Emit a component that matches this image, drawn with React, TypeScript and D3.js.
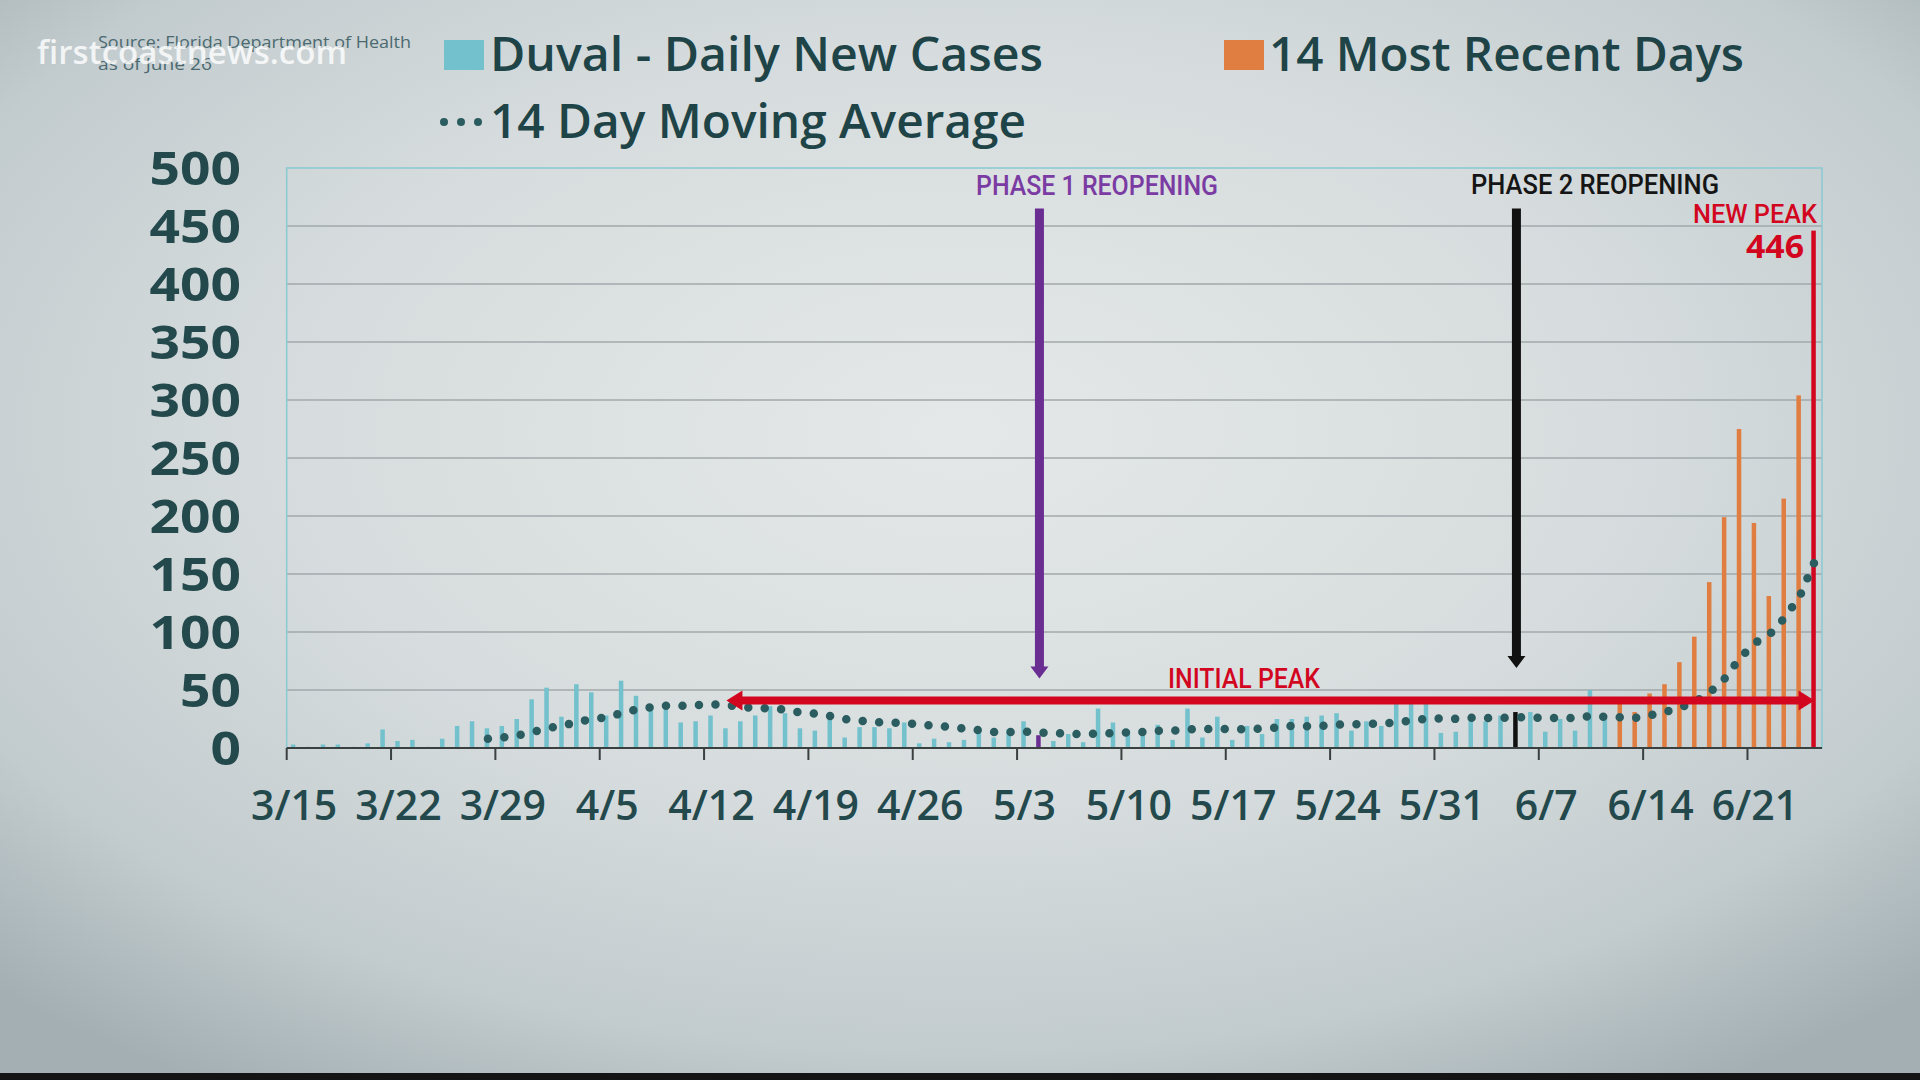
import * as d3 from 'd3'

// Duval County daily new cases, 3/15 - 6/11 (teal bars)
const dailyCases = [
  3, 1, 3, 3, 1, 4, 16, 6, 7, 1, 8, 19, 23, 17,
  19, 25, 42, 52, 27, 55, 48, 28, 58, 45, 36, 37, 22, 23,
  28, 17, 23, 28, 36, 30, 17, 15, 27, 9, 18, 18, 17, 22,
  4, 8, 5, 7, 17, 9, 16, 23, 11, 6, 12, 5, 34, 22,
  15, 12, 20, 7, 34, 9, 27, 7, 19, 12, 25, 25, 27, 28,
  30, 15, 23, 19, 40, 40, 40, 13, 14, 25, 23, 28, 31, 31,
  14, 25, 15, 50, 25,
]
// 14 most recent days, 6/12 - 6/25 (orange bars, last one is the new peak)
const recentCases = [38, 31, 47, 55, 74, 96, 143, 199, 275, 194, 131, 215, 304, 446]

const xTickLabels = ['3/15', '3/22', '3/29', '4/5', '4/12', '4/19', '4/26', '5/3', '5/10', '5/17', '5/24', '5/31', '6/7', '6/14', '6/21']
const yTicks = [0, 50, 100, 150, 200, 250, 300, 350, 400, 450, 500]

const phase1Day = '5/4'
const phase2Day = '6/5'
const initialPeakFrom = '4/13'
const initialPeak = 41
const maWindow = 14

const days = d3.timeDay.range(new Date(2020, 2, 15), new Date(2020, 5, 26)).map(d3.timeFormat('%-m/%-d'))
const allCases = dailyCases.concat(recentCases)
const recentStart = dailyCases.length

// 14 day moving average (trailing), same as the Excel trendline
const movingAvg = allCases.map((_, i) =>
  i < maWindow - 1 ? null : d3.mean(allCases.slice(i - maWindow + 1, i + 1)) as number
)

const W = 1920
const H = 1080
const plot = { left: 286.7, right: 1822, top: 168, bottom: 748 }

const TEAL = '#72c1cd'
const ORANGE = '#e07d40'
const PURPLE = '#6a2d92'
const RED = '#d3061f'
const DARK = '#1f4448'

export default function App() {
  const x = d3.scaleBand<string>().domain(days).range([plot.left, plot.right])
  const y = d3.scaleLinear().domain([0, 500]).range([plot.bottom, plot.top])
  const bw = x.bandwidth()
  const cx = (d: string) => (x(d) as number) + bw / 2
  const barW = 4.5

  const barColor = (d: string, i: number) => {
    if (i === allCases.length - 1) return RED
    if (d === phase1Day) return PURPLE
    if (d === phase2Day) return '#111111'
    return i >= recentStart ? ORANGE : TEAL
  }

  const maLine = d3
    .line<number | null>()
    .defined(d => d != null)
    .x((_, i) => cx(days[i]))
    .y(d => y(d as number))

  const p1x = cx(phase1Day)
  const p2x = cx(phase2Day)
  const arrowTop = y(465)
  const peakY = y(initialPeak)
  const peakX0 = cx(initialPeakFrom)
  const peakX1 = cx(days[days.length - 1])

  const downArrow = (ax: number, tipY: number, color: string) => (
    <g>
      <line x1={ax} x2={ax} y1={arrowTop} y2={tipY - 10} stroke={color} strokeWidth={9} />
      <path d={`M${ax - 9},${tipY - 12} L${ax + 9},${tipY - 12} L${ax},${tipY} Z`} fill={color} />
    </g>
  )

  return (
    <div style={{ position: 'absolute', left: 0, top: 0 }}>
      <svg width={W} height={H} style={{ display: 'block' }}>
        <defs>
          <radialGradient id="bg" cx="50%" cy="40%" r="72%">
            <stop offset="0" stopColor="#e4e8e8" />
            <stop offset="0.5" stopColor="#d6dcdd" />
            <stop offset="0.8" stopColor="#c2cbce" />
            <stop offset="1" stopColor="#a3afb3" />
          </radialGradient>
        </defs>
        <rect width={W} height={H} fill="url(#bg)" />
        <rect y={1073} width={W} height={7} fill="#141414" />

        {/* source + watermark */}
        <g fontFamily="'Open Sans', sans-serif" fill="#4b6a70" fontSize={17}>
          <text x={98} y={48} textLength={313} lengthAdjust="spacingAndGlyphs">Source: Florida Department of Health</text>
          <text x={98} y={70} textLength={114} lengthAdjust="spacingAndGlyphs">as of June 26</text>
        </g>
        <text x={37} y={64} fontFamily="'Open Sans', sans-serif" fontWeight={600} fontSize={33} fill="#ffffff" opacity={0.8} textLength={310} lengthAdjust="spacingAndGlyphs">
          firstcoastnews.com
        </text>

        {/* legend */}
        <g fontFamily="'Open Sans', sans-serif" fontWeight={600} fontSize={47} fill={DARK}>
          <rect x={444} y={40} width={40} height={30} fill={TEAL} />
          <text x={490} y={71} textLength={553} lengthAdjust="spacingAndGlyphs">Duval - Daily New Cases</text>
          <rect x={1224} y={40} width={40} height={30} fill={ORANGE} />
          <text x={1269} y={71} textLength={475} lengthAdjust="spacingAndGlyphs">14 Most Recent Days</text>
          {[444, 461, 478].map(dx => (
            <circle key={dx} cx={dx} cy={122} r={4} fill="#2b5c60" />
          ))}
          <text x={490} y={138} textLength={536} lengthAdjust="spacingAndGlyphs">14 Day Moving Average</text>
        </g>

        {/* grid + frame */}
        {yTicks.slice(1, -1).map(t => (
          <line key={t} x1={plot.left} x2={plot.right} y1={y(t)} y2={y(t)} stroke="#a2a9ab" strokeWidth={1.6} />
        ))}
        <rect x={plot.left} y={plot.top} width={plot.right - plot.left} height={plot.bottom - plot.top} fill="none" stroke="#8ccbd3" strokeWidth={1.6} />

        {/* y axis labels */}
        <g fontFamily="'Open Sans', sans-serif" fontWeight={700} fontSize={46} fill="#23494d" textAnchor="end">
          {yTicks.map(t => (
            <text key={t} x={241} y={y(t) + 17} textLength={String(t).length * 30.5} lengthAdjust="spacingAndGlyphs">{t}</text>
          ))}
        </g>

        {/* bars */}
        {allCases.map((v, i) => (
          <rect
            key={days[i]}
            x={cx(days[i]) - barW / 2 - 1}
            y={y(v)}
            width={barW}
            height={y(0) - y(v)}
            fill={barColor(days[i], i)}
          />
        ))}

        {/* x axis */}
        <line x1={plot.left} x2={plot.right} y1={y(0)} y2={y(0)} stroke="#3a3f40" strokeWidth={2} />
        {xTickLabels.map(l => (
          <g key={l}>
            <line x1={x(l)} x2={x(l)} y1={y(0)} y2={y(0) + 12} stroke="#3a3f40" strokeWidth={2} />
            <text x={cx(l)} y={820} textAnchor="middle" fontFamily="'Open Sans', sans-serif" fontWeight={600} fontSize={41} fill="#23494d">
              {l}
            </text>
          </g>
        ))}

        {/* 14 day moving average, round dotted */}
        <path d={maLine(movingAvg) || ''} fill="none" stroke="#2b5c60" strokeWidth={8.5} strokeDasharray="0 16.5" strokeLinecap="round" />

        {/* phase annotations */}
        {downArrow(p1x, y(60), PURPLE)}
        {downArrow(p2x, y(69), '#111111')}
        <text x={1097} y={195} textAnchor="middle" fontFamily="Roboto, sans-serif" fontWeight={500} fontSize={27} fill="#7a3ba3" textLength={242} lengthAdjust="spacingAndGlyphs">
          PHASE 1 REOPENING
        </text>
        <text x={1595} y={194} textAnchor="middle" fontFamily="Roboto, sans-serif" fontWeight={500} fontSize={27} fill="#151515" textLength={248} lengthAdjust="spacingAndGlyphs">
          PHASE 2 REOPENING
        </text>

        {/* initial peak double arrow */}
        <line x1={peakX0 + 14} x2={peakX1 - 14} y1={peakY} y2={peakY} stroke={RED} strokeWidth={8} />
        <path d={`M${peakX0},${peakY} L${peakX0 + 16},${peakY - 10} L${peakX0 + 16},${peakY + 10} Z`} fill={RED} />
        <path d={`M${peakX1},${peakY} L${peakX1 - 16},${peakY - 10} L${peakX1 - 16},${peakY + 10} Z`} fill={RED} />
        <text x={1244} y={688} textAnchor="middle" fontFamily="Roboto, sans-serif" fontWeight={500} fontSize={27} fill={RED} textLength={152} lengthAdjust="spacingAndGlyphs">
          INITIAL  PEAK
        </text>

        {/* new peak */}
        <text x={1817} y={223} textAnchor="end" fontFamily="Roboto, sans-serif" fontWeight={500} fontSize={25} fill={RED} textLength={124} lengthAdjust="spacingAndGlyphs">
          NEW PEAK
        </text>
        <text x={1804} y={258} textAnchor="end" fontFamily="'Open Sans', sans-serif" fontWeight={700} fontSize={33} fill={RED} textLength={58} lengthAdjust="spacingAndGlyphs">
          {allCases[allCases.length - 1]}
        </text>
      </svg>
    </div>
  )
}
